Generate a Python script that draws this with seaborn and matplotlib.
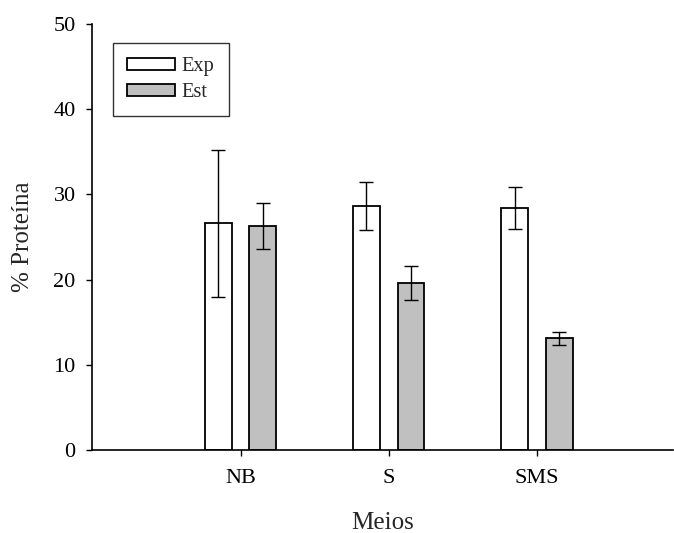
import matplotlib
matplotlib.use("Agg")
import matplotlib.pyplot as plt
import seaborn as sns
import pandas as pd

categories = ["NB", "S", "SMS"]
series = ["Exp", "Est"]
exp_values = [26.6, 28.6, 28.4]
exp_errors = [8.65, 2.8, 2.5]
est_values = [26.3, 19.6, 13.1]
est_errors = [2.7, 2.0, 0.8]
y_ticks = [0, 10, 20, 30, 40, 50]

sns.set_style("ticks")
plt.rcParams['font.family'] = ['Liberation Serif', 'DejaVu Serif']

df = pd.DataFrame({
    "Meios": categories * 2,
    "Serie": [series[0]] * len(categories) + [series[1]] * len(categories),
    "val": exp_values + est_values,
})

fig = plt.figure(figsize=(6.74, 5.33), dpi=100)
ax = fig.add_axes([92.3 / 674, 83 / 533, (673.3 - 92.3) / 674, 426 / 533])

sns.barplot(data=df, x="Meios", y="val", hue="Serie", order=categories,
            hue_order=series, palette={"Exp": "white", "Est": "#c0c0c0"},
            width=0.6, gap=0.4, edgecolor="black", linewidth=1.3,
            errorbar=None, saturation=1, ax=ax)

errs = [exp_errors, est_errors]
for cont, err in zip(ax.containers, errs):
    xs = [p.get_x() + p.get_width() / 2 for p in cont.patches]
    hs = [p.get_height() for p in cont.patches]
    ax.errorbar(xs, hs, yerr=err, fmt="none", ecolor="black", elinewidth=1.0,
                capsize=4.7, capthick=1.0, zorder=5)

ax.set_xlim(-1.0, 2.92)
ax.set_ylim(0, 50)
ax.set_yticks(y_ticks)
ax.tick_params(axis="both", labelsize=16, length=4, width=1, color="black",
               labelcolor="black", direction="out", pad=8)
ax.tick_params(axis="x", pad=10)
for s in ["top", "right"]:
    ax.spines[s].set_visible(False)
for s in ["left", "bottom"]:
    ax.spines[s].set_color("black")
    ax.spines[s].set_linewidth(1.2)

ax.set_xlabel("Meios", fontsize=18, labelpad=17)
ax.set_ylabel("% Proteína", fontsize=18, labelpad=14)

handles, labels = ax.get_legend_handles_labels()
leg = ax.legend(handles, labels, loc="upper left", bbox_to_anchor=(0.035, 0.956),
                fontsize=14.7, frameon=True, fancybox=False, edgecolor="black",
                handlelength=2.35, handleheight=0.54, labelspacing=0.35,
                borderpad=0.7, handletextpad=0.33, borderaxespad=0)
leg.get_frame().set_linewidth(1.0)

fig.savefig("out.png", dpi=100)
